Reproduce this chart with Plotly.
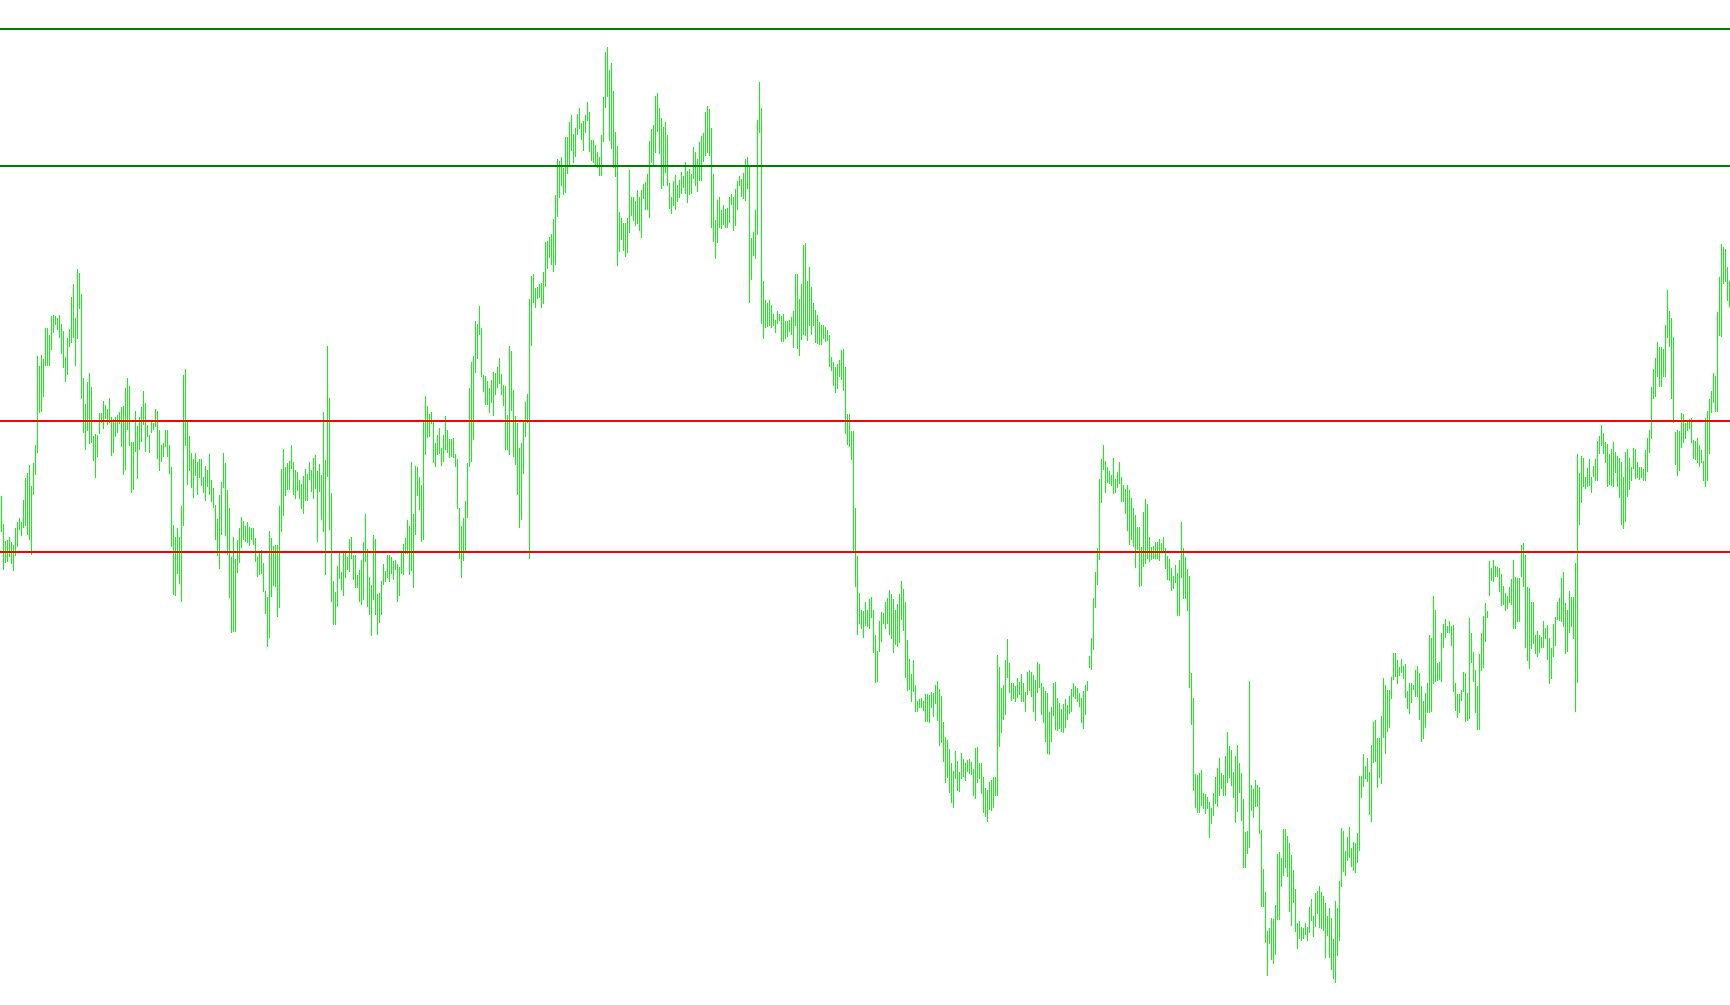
import plotly.graph_objects as go

# Price data (in points; price = points / 10000), one bar per period
high_pts = [
11504,11476,11459,11460,11463,11458,11455,11472,11478,11482,
11478,11500,11522,11527,11535,11514,11537,11555,11644,11634,
11645,11641,11672,11672,11665,11684,11685,11684,11682,11685,
11676,11669,11643,11662,11671,11703,11716,11682,11731,11727,
11706,11622,11596,11618,11627,11613,11564,11566,11565,11587,
11587,11599,11595,11591,11602,11583,11581,11583,11585,11588,
11593,11594,11612,11622,11614,11558,11558,11589,11574,11583,
11593,11609,11597,11575,11565,11578,11577,11591,11589,11570,
11555,11557,11570,11570,11555,11533,11475,11463,11472,11463,
11494,11625,11631,11580,11564,11547,11541,11547,11538,11541,
11541,11523,11534,11530,11546,11520,11512,11495,11481,11505,
11518,11547,11537,11510,11492,11443,11463,11441,11460,11472,
11483,11479,11474,11478,11473,11472,11472,11462,11443,11447,
11450,11437,11409,11403,11469,11462,11454,11455,11455,11494,
11531,11551,11533,11537,11539,
11555,11538,11530,11528,11520,11516,11524,11531,11526,11538,
11530,11542,11545,11529,11536,11525,11588,11540,11654,11602,
11507,11419,11408,11434,11447,11428,11447,11447,11443,11461,
11463,11445,11445,11425,11430,11440,11458,11486,11451,11423,
11415,11465,11461,11406,11407,11419,11436,11429,11445,11445,
11443,11439,11440,11436,11433,11447,11456,11462,11480,11474,
11538,11486,11534,11533,11523,11515,11580,11604,11594,11586,
11588,11580,11557,11565,11572,11552,11565,11584,11570,11561,
11561,11562,11546,11541,11492,11474,11482,11499,11537,11612,
11638,11644,11679,11676,11694,11672,11625,11624,11619,11612,
11620,11628,11627,11633,11642,11626,11615,11614,11585,11654,
11649,11610,11584,11577,11552,11557,11580,11598,11606,11701,
11724,11726,11712,11713,11716,11717,11728,11758,11759,11763,
11766,11781,11805,11841,11839,11843,11832,11863,11863,11878,
11885,11866,11872,11886,11892,
11877,11879,11885,11898,11888,11860,11860,11855,11848,11843,
11865,11903,11948,11953,11930,11937,11909,11868,11854,11788,
11782,11777,11777,11782,11830,11803,11803,11799,11810,11803,
11810,11816,11818,11826,11859,11871,11875,11904,11907,11892,
11882,11873,11878,11865,11817,11803,11819,11825,11815,11820,
11828,11824,11838,11829,11831,11826,11853,11848,11841,11858,
11864,11867,11888,11894,11891,11872,11826,11780,11800,11803,
11790,11795,11791,11792,11803,11806,11803,11811,11819,11824,
11821,11827,11841,11843,11833,11762,11768,11790,11880,11918,
11892,11719,11700,11697,11700,11695,11686,11680,11689,11686,
11684,11686,11679,11679,11680,11683,11689,11726,11726,11701,
11716,11755,11757,11719,11733,11713,11697,11690,11685,11678,
11675,11675,11673,11670,11665,11643,11638,11633,11636,11640,
11650,11651,11633,11586,11586,11569,11569,11492,11444,11407,
11390,11389,11398,11390,11401,
11403,11390,11365,11349,11379,11388,11387,11398,11402,11410,
11406,11401,11390,11396,11406,11419,11411,11398,11360,11341,
11326,11340,11315,11299,11301,11302,11299,11306,11306,11305,
11308,11307,11315,11319,11311,11304,11278,11263,11260,11251,
11237,11229,11249,11239,11228,11247,11241,11237,11240,11241,
11238,11231,11252,11253,11237,11237,11223,11212,11210,11218,
11220,11223,11223,11345,11333,11312,11315,11340,11361,11337,
11317,11317,11314,11322,11318,11326,11317,11308,11328,11330,
11328,11325,11320,11338,11336,11317,11313,11309,11307,11288,
11293,11317,11318,11302,11297,11291,11296,11301,11295,11304,
11311,11317,11314,11312,11307,11302,11309,11315,11319,11344,
11362,11402,11428,11452,11521,11541,11555,11539,11533,11529,
11525,11542,11521,11528,11538,11523,11515,11511,11515,11510,
11502,11492,11485,11473,11473,11453,11488,11501,11496,11463,
11453,11454,11458,11458,11461,
11457,11463,11452,11444,11441,11432,11424,11435,11427,11440,
11478,11452,11443,11431,11424,11327,11302,11226,11225,11227,
11230,11207,11206,11203,11198,11192,11207,11223,11232,11242,
11227,11225,11244,11268,11254,11250,11228,11244,11255,11237,
11227,11201,11168,11169,11319,11215,11211,11220,11215,11213,
11170,11131,11108,11069,11072,11082,11081,11095,11146,11148,
11142,11171,11171,11164,11157,11145,11130,11111,11077,11079,
11073,11072,11077,11073,11093,11101,11084,11107,11109,11114,
11108,11104,11097,11084,11092,11082,11061,11099,11092,11119,
11172,11169,11149,11163,11173,11152,11158,11157,11167,11224,
11224,11246,11234,11242,11228,11255,11278,11280,11262,11262,
11284,11322,11315,11310,11310,11323,11347,11347,11340,11333,
11341,11334,11336,11309,11317,11317,11315,11330,11334,11327,
11314,11299,11307,11317,11365,11362,11404,11390,11337,11338,
11367,11376,11381,11374,11379,
11374,11375,11317,11306,11306,11310,11328,11327,11307,11382,
11367,11348,11330,11314,11346,11367,11384,11397,11389,11439,
11432,11440,11434,11433,11432,11426,11414,11407,11404,11413,
11421,11440,11423,11422,11422,11455,11457,11445,11413,11412,
11398,11398,11365,11369,11365,11363,11379,11372,11375,11362,
11352,11376,11383,11398,11402,11422,11428,11397,11390,11409,
11403,11403,11437,11546,11527,11544,11542,11523,11532,11541,
11523,11534,11541,11559,11564,11575,11567,11558,11556,11546,
11551,11558,11548,11544,11542,11538,11523,11548,11551,11542,
11533,11552,11551,11538,11533,11533,11531,11550,11562,11570,
11613,11631,11642,11658,11653,11653,11651,11675,11710,11689,
11682,11663,11568,11570,11569,11587,11586,11577,11578,11581,
11582,11560,11559,11562,11555,11550,11539,11582,11589,11601,
11609,11627,11624,11688,11723,11756,11753,11751,11733,11719,
]

low_pts = [
11468,11430,11437,11438,11443,11436,11429,11444,11453,11470,
11464,11472,11474,11465,11460,11445,11505,11525,11547,11587,
11588,11603,11634,11634,11634,11650,11667,11675,11670,11662,
11646,11632,11618,11625,11653,11657,11662,11634,11661,11691,
11601,11567,11550,11569,11556,11557,11539,11522,11543,11566,
11577,11571,11581,11575,11577,11544,11547,11563,11567,11576,
11553,11525,11530,11570,11554,11507,11510,11548,11521,11550,
11558,11575,11548,11563,11547,11567,11570,11573,11541,11529,
11538,11543,11553,11543,11526,11453,11405,11404,11426,11416,
11398,11474,11554,11515,11529,11512,11502,11524,11505,11522,
11514,11507,11499,11513,11505,11498,11492,11460,11444,11431,
11465,11512,11464,11445,11402,11367,11368,11368,11427,11437,
11452,11460,11458,11457,11454,11460,11455,11438,11423,11425,
11426,11408,11386,11353,11362,11403,11414,11413,11383,11392,
11468,11484,11504,11510,11510,
11531,11505,11501,11509,11501,11491,11486,11499,11499,11520,
11508,11501,11511,11458,11508,11480,11468,11425,11523,11470,
11398,11375,11375,11393,11421,11410,11404,11422,11430,11428,
11441,11420,11412,11412,11398,11395,11400,11438,11393,11385,
11364,11400,11385,11365,11377,11385,11415,11418,11422,11418,
11426,11420,11430,11398,11404,11426,11425,11446,11446,11425,
11429,11412,11465,11504,11490,11458,11460,11545,11562,11563,
11576,11537,11533,11545,11546,11534,11538,11550,11547,11542,
11543,11542,11533,11491,11441,11422,11439,11447,11482,11533,
11538,11560,11627,11641,11665,11623,11608,11595,11595,11587,
11597,11584,11605,11612,11616,11605,11594,11550,11550,11545,
11589,11543,11535,11505,11472,11480,11526,11563,11577,11441,
11654,11697,11692,11701,11702,11692,11696,11713,11731,11742,
11735,11728,11735,11783,11802,11814,11805,11807,11826,11833,
11849,11837,11843,11865,11871,
11860,11849,11867,11879,11848,11839,11837,11834,11832,11824,
11824,11858,11892,11903,11859,11851,11832,11823,11734,11748,
11760,11749,11743,11747,11767,11784,11779,11774,11776,11769,
11762,11801,11790,11790,11782,11837,11835,11847,11868,11846,
11811,11814,11827,11814,11791,11786,11794,11790,11798,11802,
11806,11812,11806,11797,11805,11806,11821,11814,11808,11819,
11819,11838,11844,11847,11844,11772,11758,11741,11757,11772,
11771,11775,11772,11772,11777,11795,11769,11774,11790,11814,
11803,11801,11799,11811,11697,11720,11744,11741,11765,11867,
11676,11661,11672,11673,11674,11672,11674,11667,11676,11679,
11658,11658,11661,11663,11668,11665,11652,11674,11651,11644,
11660,11665,11664,11659,11674,11665,11674,11657,11656,11655,
11655,11661,11658,11659,11633,11629,11614,11607,11611,11623,
11620,11609,11566,11555,11553,11540,11447,11413,11365,11376,
11371,11362,11374,11373,11371,
11382,11347,11317,11318,11348,11358,11376,11371,11376,11365,
11361,11347,11355,11353,11357,11380,11369,11322,11309,11310,
11298,11308,11288,11288,11292,11292,11289,11278,11278,11277,
11292,11283,11296,11279,11254,11257,11238,11217,11222,11207,
11197,11192,11221,11209,11208,11221,11223,11219,11228,11226,
11225,11204,11201,11217,11221,11206,11187,11183,11178,11190,
11189,11192,11204,11204,11253,11267,11280,11285,11322,11307,
11299,11301,11298,11302,11305,11298,11298,11288,11305,11309,
11303,11288,11279,11307,11312,11285,11277,11258,11246,11245,
11258,11284,11270,11269,11271,11268,11267,11272,11280,11286,
11288,11303,11301,11298,11293,11277,11271,11285,11309,11332,
11330,11350,11392,11415,11440,11497,11530,11507,11517,11516,
11514,11506,11507,11512,11516,11498,11498,11486,11469,11455,
11460,11453,11432,11450,11413,11414,11433,11436,11441,11438,
11440,11441,11441,11441,11439,
11449,11447,11431,11420,11419,11409,11411,11417,11384,11384,
11422,11401,11401,11389,11312,11275,11209,11192,11187,11187,
11194,11191,11186,11191,11162,11176,11184,11196,11193,11204,
11211,11204,11204,11217,11222,11214,11202,11177,11188,11207,
11179,11132,11132,11146,11152,11189,11182,11193,11193,11166,
11093,11093,11057,11024,11056,11040,11036,11045,11080,11080,
11113,11124,11132,11123,11088,11074,11097,11068,11051,11061,
11059,11061,11065,11059,11067,11079,11063,11073,11086,11072,
11071,11069,11042,11064,11042,11030,11021,11017,11044,11059,
11113,11128,11124,11139,11142,11133,11129,11127,11137,11149,
11202,11213,11221,11218,11185,11178,11237,11238,11212,11222,
11216,11262,11246,11268,11272,11301,11320,11323,11316,11324,
11327,11321,11302,11291,11286,11297,11310,11303,11303,11280,
11258,11261,11272,11287,11287,11288,11316,11318,11319,11320,
11318,11352,11362,11367,11367,
11354,11308,11289,11282,11287,11299,11308,11278,11279,11281,
11337,11318,11287,11270,11270,11329,11332,11358,11382,11404,
11419,11418,11423,11423,11408,11394,11395,11389,11391,11397,
11395,11371,11371,11378,11378,11423,11413,11352,11339,11331,
11351,11356,11346,11343,11347,11352,11352,11361,11340,11316,
11321,11343,11354,11380,11379,11378,11373,11346,11348,11367,
11373,11361,11288,11317,11475,11497,11513,11511,11513,11514,
11507,11523,11519,11519,11546,11554,11546,11537,11513,11515,
11514,11513,11527,11513,11502,11475,11471,11478,11503,11510,
11519,11531,11521,11522,11520,11522,11519,11519,11528,11547,
11561,11601,11603,11623,11613,11613,11623,11623,11662,11653,
11601,11577,11535,11524,11529,11552,11557,11561,11569,11571,
11557,11541,11540,11537,11533,11537,11519,11513,11519,11546,
11587,11597,11588,11588,11664,11663,11716,11718,11699,11693,
]

# Horizontal levels (prices)
resistance_levels = [1.1971, 1.1834]
support_levels = [1.1579, 1.1448]

BAR_COLOR = "#00ff00"
RES_COLOR = "#008000"
SUP_COLOR = "#ff0000"

n = len(high_pts)
highs = [h / 10000 for h in high_pts]
lows = [l / 10000 for l in low_pts]

xs, ys = [], []
for i in range(n):
    xs += [i, i, None]
    ys += [lows[i], highs[i], None]

fig = go.Figure()
fig.add_trace(go.Scatter(
    x=xs, y=ys, mode="lines",
    line=dict(color=BAR_COLOR, width=1, simplify=False),
    connectgaps=False,
    hoverinfo="skip", showlegend=False,
))

shapes = []
for lv in resistance_levels:
    shapes.append(dict(type="line", xref="paper", x0=0, x1=1, yref="y", y0=lv, y1=lv,
                       line=dict(color=RES_COLOR, width=2), layer="above"))
for lv in support_levels:
    shapes.append(dict(type="line", xref="paper", x0=0, x1=1, yref="y", y0=lv, y1=lv,
                       line=dict(color=SUP_COLOR, width=2), layer="above"))

fig.update_layout(
    width=1730, height=1005,
    margin=dict(l=0, r=0, t=0, b=0, pad=0),
    paper_bgcolor="white", plot_bgcolor="white",
    shapes=shapes,
    xaxis=dict(visible=False, range=[-0.75, n - 0.75], fixedrange=True),
    yaxis=dict(visible=False, range=[1.0995, 1.2000], fixedrange=True),
    showlegend=False,
)

post = (
    "document.body.style.margin='0';"
    "document.body.style.overflow='hidden';"
    "document.querySelectorAll('.scatterlayer path, .shapelayer path').forEach(function(p){"
    "p.style.shapeRendering='crispEdges';});"
)

fig.write_html(
    "out.html",
    config={"displayModeBar": False, "staticPlot": True},
    post_script=post,
)
